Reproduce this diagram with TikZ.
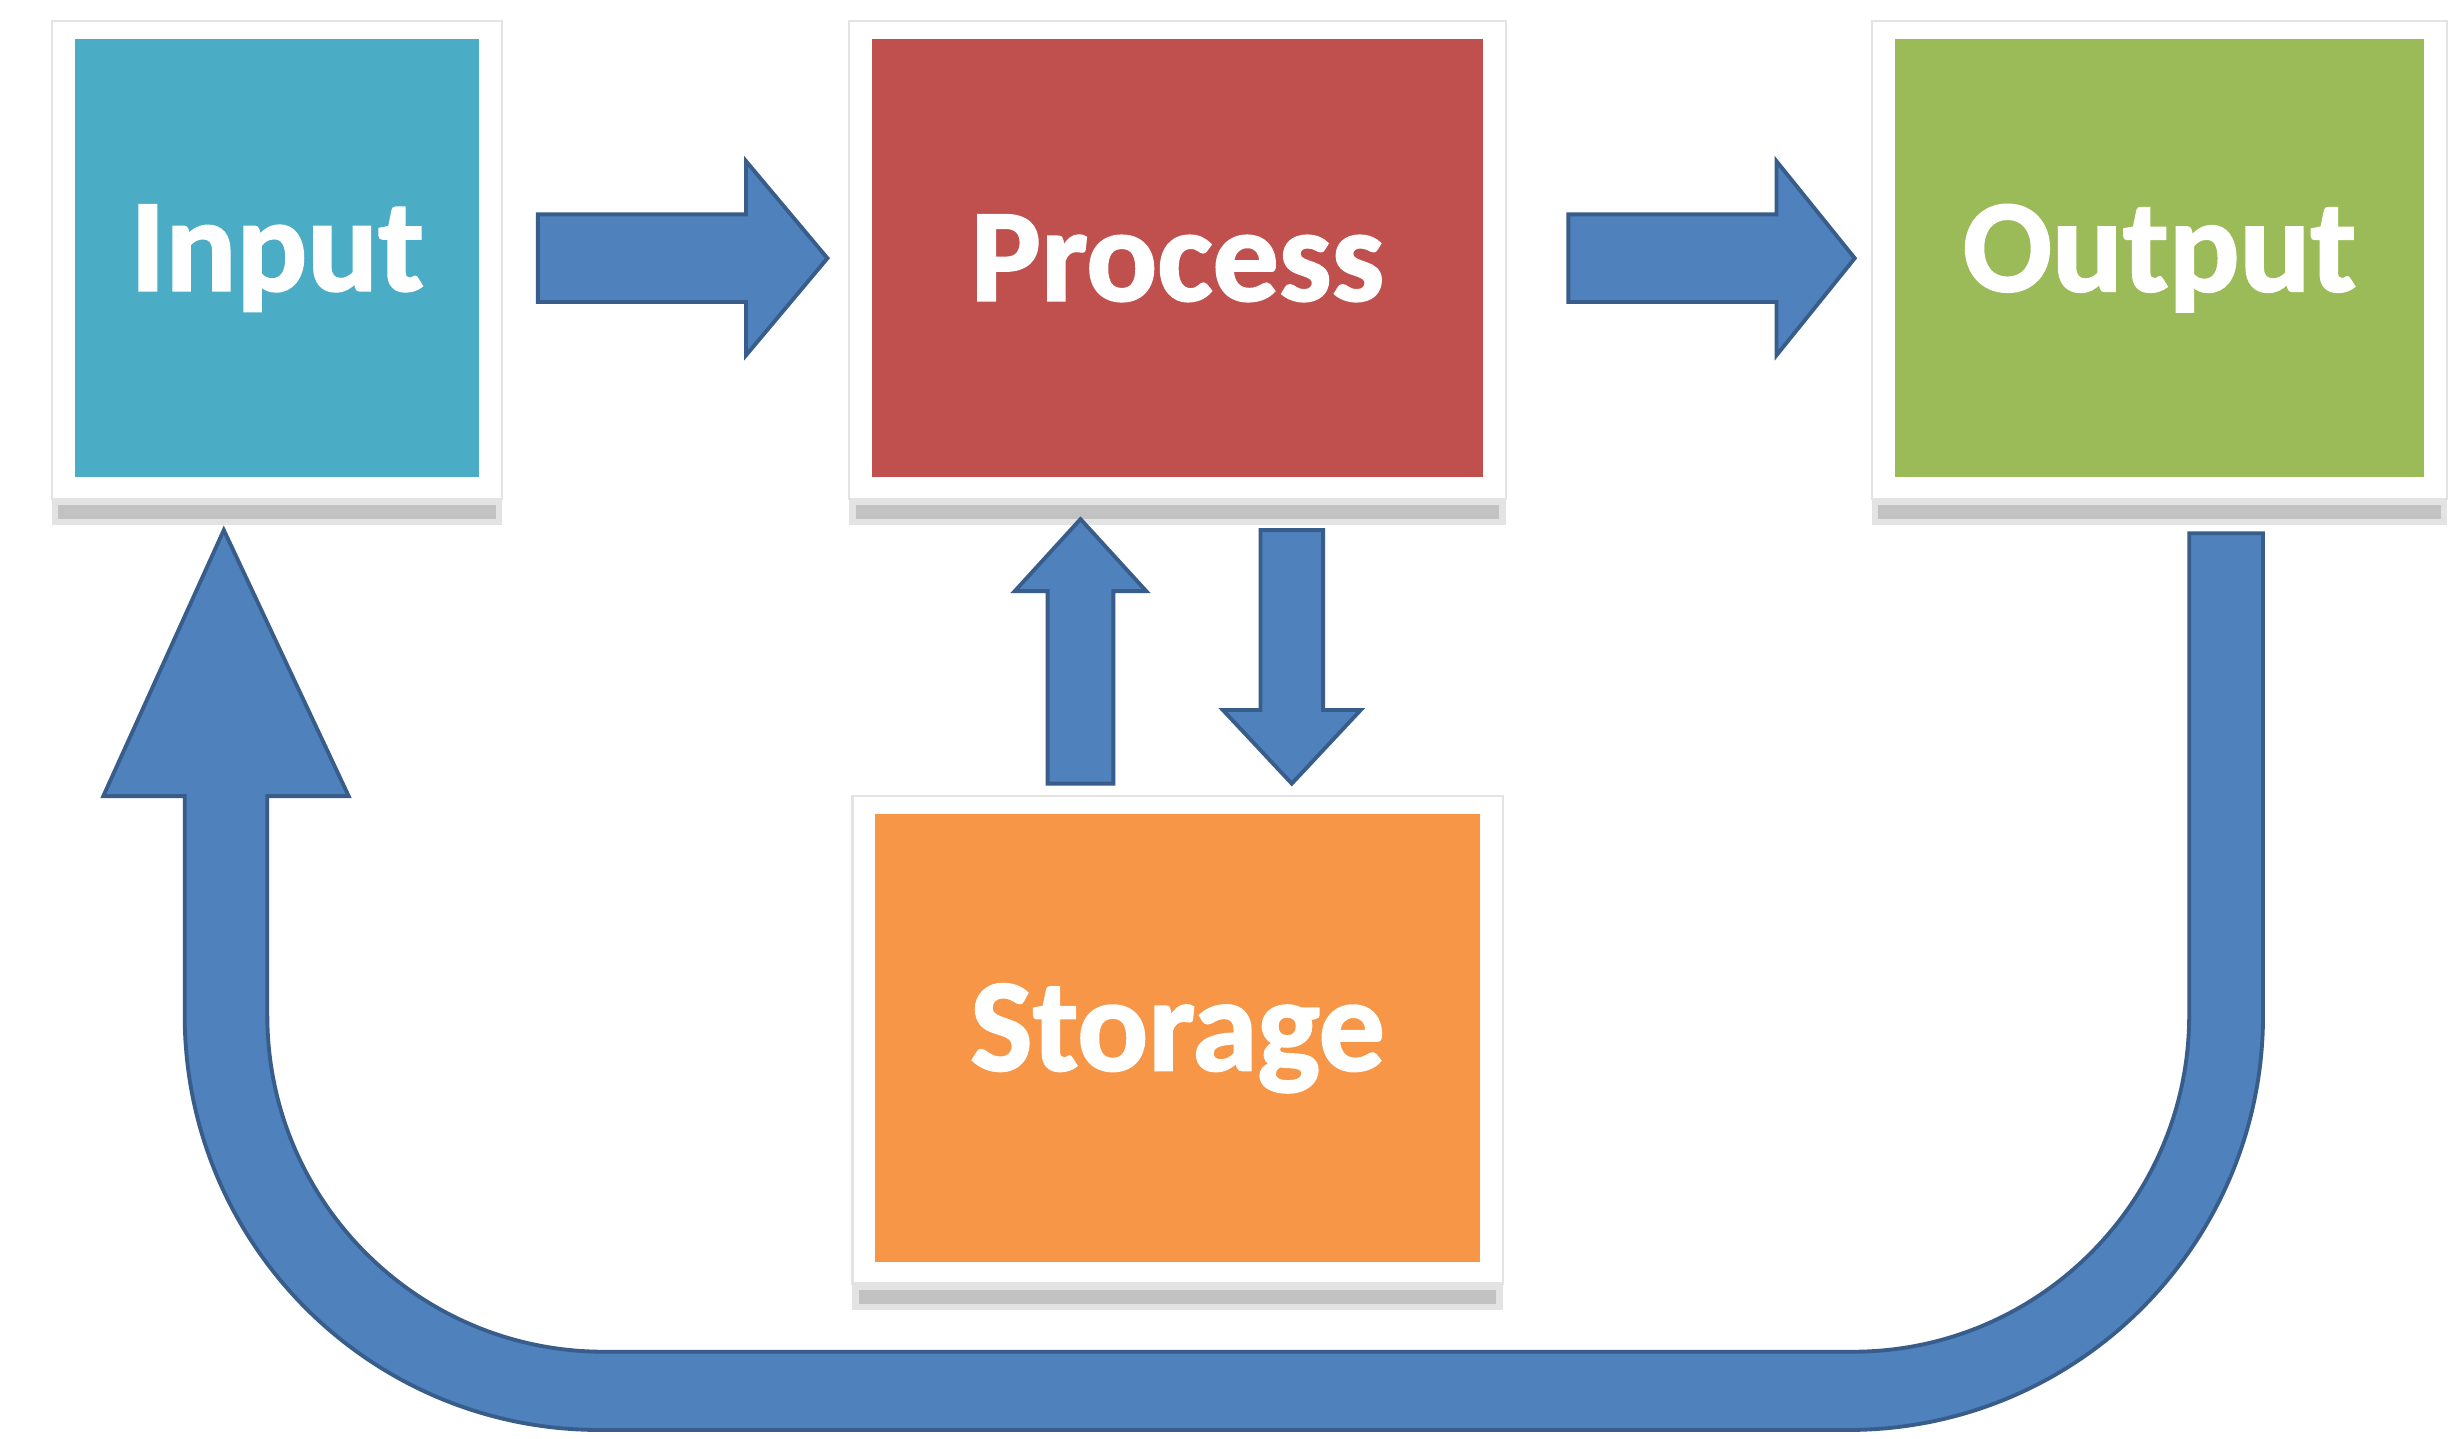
\documentclass[tikz,border=0pt]{standalone}
\usepackage{fontspec}
\setmainfont{Carlito}[BoldFeatures={FakeBold=1.6}]
\usepackage{xcolor}
\usetikzlibrary{positioning, calc, backgrounds}

\definecolor{bleuentree}{HTML}{4BACC6}
\definecolor{rougeprocess}{HTML}{C0504D}
\definecolor{vertsortie}{HTML}{9BBB59}
\definecolor{orangestock}{HTML}{F79646}
\definecolor{flechefond}{HTML}{4F81BD}
\definecolor{flechebord}{HTML}{385D8A}

\begin{document}
\begin{tikzpicture}[x=0.1mm, y=0.1mm]
% Définition des styles
    \tikzstyle{boite} = [rectangle, inner sep=0pt, minimum height=28mm, text=white, font=\bfseries\fontsize{24}{28}\selectfont]
    \tikzstyle{cadre} = [draw=gray!22, line width=0.4pt, fill=white]
    \tikzstyle{ombre} = [fill=gray!22]
    \tikzstyle{ombrefonce} = [fill=gray!48]
    \tikzstyle{fleche} = [draw=flechebord, fill=flechefond, line width=0.7pt, line join=miter]

    \useasboundingbox (0,0) rectangle (1568,919);

    % Placement des boîtes
    \node [boite, fill=bleuentree, minimum width=25.8mm] (input) at (177,754) {Input};
    \node [boite, fill=rougeprocess, minimum width=39mm, right=25mm of input] (process) {Process};
    \node [boite, fill=vertsortie, minimum width=33.8mm, right=26.2mm of process] (output) {Output};
    \node [boite, fill=orangestock, minimum width=38.6mm, minimum height=28.6mm, below=21.4mm of process] (storage) {Storage};

    % Cadres blancs et ombres
    \begin{pgfonlayer}{background}
    \fill[white] (0,0) rectangle (1568,919);
    \foreach \n in {input,process,output,storage}{
        \fill[ombre] ($(\n.south west)+(-14,-13)$) rectangle ($(\n.south east)+(14,-30)$);
        \fill[ombrefonce] ($(\n.south west)+(-10,-17)$) rectangle ($(\n.south east)+(10,-26)$);
        \draw[cadre] ($(\n.south west)+(-14,-13)$) rectangle ($(\n.north east)+(14,11)$);
    }
    \end{pgfonlayer}

    % Flèches horizontales
    \draw[fleche] ($(input.east)+(37,-28)$) -- ++(133,0) -- ++(0,-34) -- ($(process.west)+(-28,0)$)
        -- ++(-52,62) -- ++(0,-34) -- ++(-133,0) -- cycle;
    \draw[fleche] ($(process.east)+(54,-28)$) -- ++(133,0) -- ++(0,-34) -- ($(output.west)+(-25,0)$)
        -- ++(-50,62) -- ++(0,-34) -- ++(-133,0) -- cycle;

    % Flèches entre process et storage
    \draw[fleche] ($(storage.north)+(-83,19)$) -- ++(0,123) -- ++(-21,0) -- ($(process.south)+(-62,-26)$)
        -- ++(42,-46) -- ++(-21,0) -- ++(0,-123) -- cycle;
    \draw[fleche] ($(process.south)+(53,-33)$) -- ++(0,-115) -- ++(-24,0) -- ($(storage.north)+(73,19)$)
        -- ++(44,47) -- ++(-24,0) -- ++(0,115) -- cycle;

    % Retour de output vers input
    \draw[fleche] ($(output.south)+(19,-35)$) -- ++(0,-308)
        arc[start angle=0, end angle=-90, radius=21.5mm] -- ++(-798,0)
        arc[start angle=270, end angle=180, radius=21.5mm] -- ++(0,140) -- ++(52,0)
        -- ($(input.south)+(-34,-33)$) -- ++(-77,-170) -- ++(52,0) -- ++(0,-140)
        arc[start angle=180, end angle=270, radius=26.5mm] -- ++(798,0)
        arc[start angle=270, end angle=360, radius=26.5mm] -- ++(0,308) -- cycle;
\end{tikzpicture}
\end{document}
